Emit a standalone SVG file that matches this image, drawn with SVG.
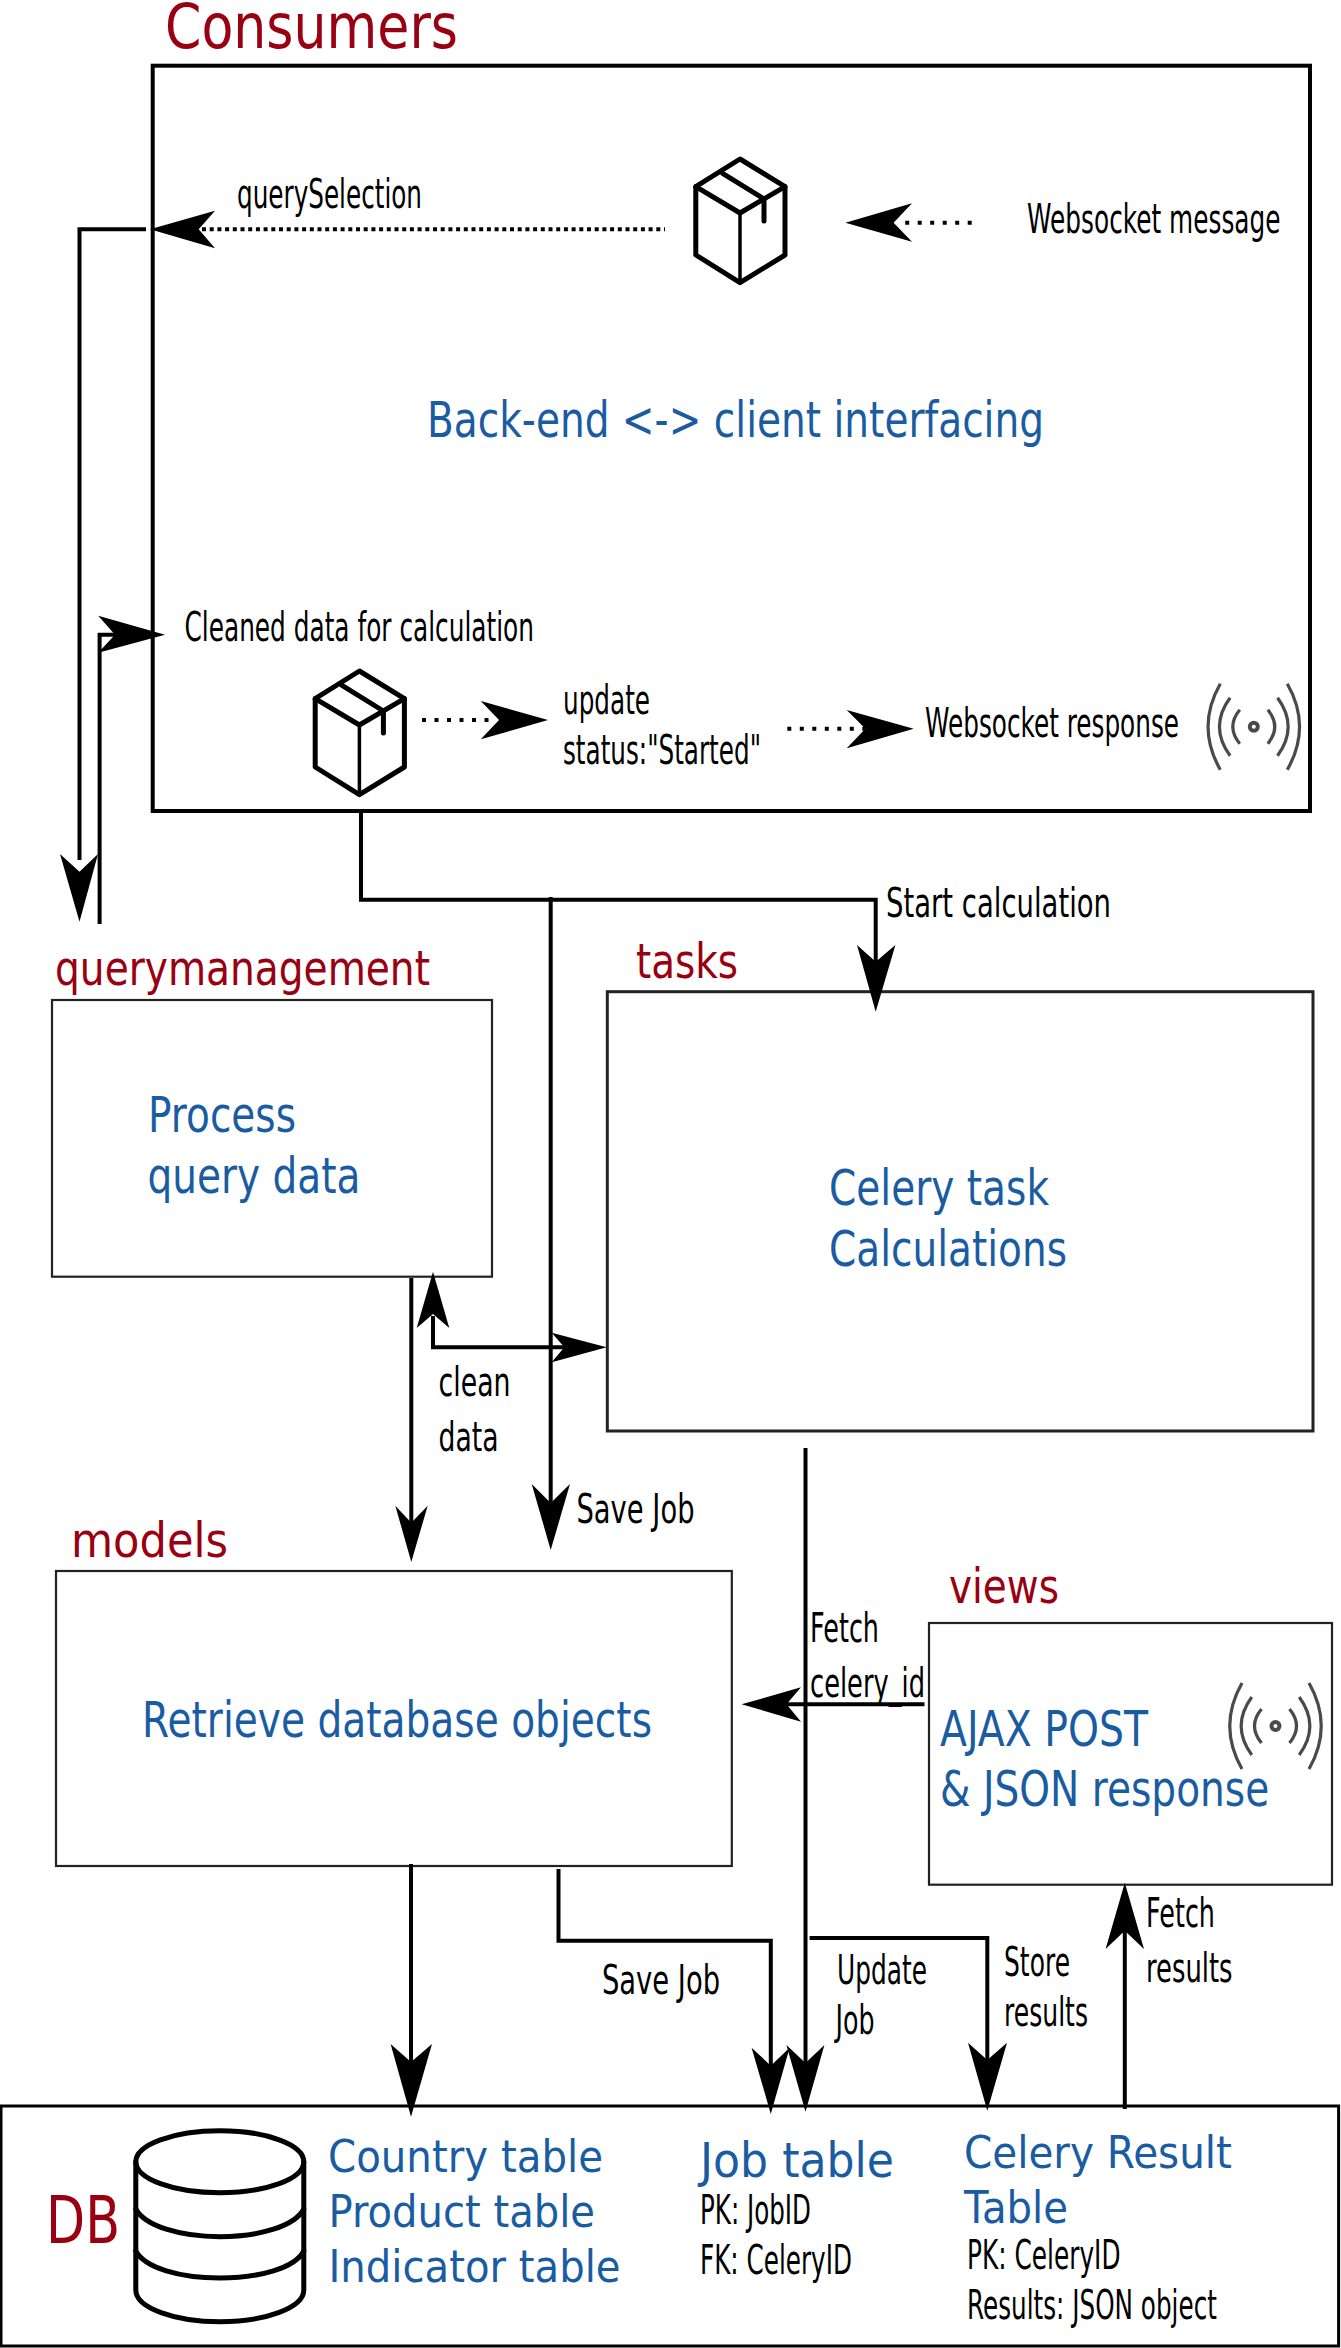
<svg xmlns="http://www.w3.org/2000/svg" xmlns:xlink="http://www.w3.org/1999/xlink" width="1341" height="2348" viewBox="0 0 1341 2348">
<style>
text{font-family:"DejaVu Sans","Liberation Sans",sans-serif;}
.t{fill:#990011;font-size:48px;}
.b{fill:#1a5ca2;font-size:49px;}
.k{fill:#000;font-size:40px;}
.box{fill:none;stroke:#222;stroke-width:2.2;}
.ln{fill:none;stroke:#000;stroke-width:4;}
.dot{fill:none;stroke:#000;stroke-width:4;stroke-dasharray:4 3.7;}
.ah{fill:#000;stroke:none;}
.ic{fill:none;stroke:#000;stroke-width:5;stroke-linejoin:round;stroke-linecap:round;}
.sg{fill:none;stroke:#4a4a4a;stroke-width:3.2;}
</style>
<defs>
<g id="pkg" class="ic">
<path d="M740 159L785 186.7V255L740 282.7L695.8 255V186.7Z"/>
<path d="M695.8 186.7L740 213L785 186.7"/>
<path d="M740 213V282.7" stroke-width="3.5"/>
<path d="M722.6 173.3L764 199V221"/>
</g>
<g id="sig" class="sg">
<path d="M-33.5 -43Q-58 0 -33.5 43M33.5 -43Q58 0 33.5 43"/>
<path d="M-23.7 -29Q-45 0 -23.7 29M23.7 -29Q45 0 23.7 29"/>
<path d="M-14 -17Q-28 0 -14 17M14 -17Q28 0 14 17"/>
<circle r="4" stroke-width="4"/>
</g>
</defs>
<rect width="1341" height="2348" fill="#fff"/>

<g id="consumers">
<text class="t" x="165" y="48" style="font-size:62px" textLength="293" lengthAdjust="spacingAndGlyphs">Consumers</text>
<rect x="152.7" y="65.7" width="1157.3" height="745.3" fill="none" stroke="#000" stroke-width="4"/>
<text class="k" x="237" y="208" textLength="185" lengthAdjust="spacingAndGlyphs">querySelection</text>
<text class="k" transform="translate(1027 233) scale(.62 1)">Websocket message</text>
<use xlink:href="#pkg" href="#pkg"/>
<text class="b" x="427" y="436.7" textLength="617" lengthAdjust="spacingAndGlyphs">Back-end &lt;-&gt; client interfacing</text>
<text class="k" x="184.5" y="640.7" textLength="349.5" lengthAdjust="spacingAndGlyphs">Cleaned data for calculation</text>
<use xlink:href="#pkg" href="#pkg" transform="translate(-380.6 512)"/>
<text class="k" x="563" y="714" textLength="87" lengthAdjust="spacingAndGlyphs">update</text>
<text class="k" x="563" y="764" textLength="198" lengthAdjust="spacingAndGlyphs">status:"Started"</text>
<text class="k" x="925" y="736.7" textLength="254" lengthAdjust="spacingAndGlyphs">Websocket response</text>
<use xlink:href="#sig" href="#sig" transform="translate(1253.8 726.7)"/>
</g>

<g id="querymanagement">
<text class="t" x="55" y="985" textLength="375" lengthAdjust="spacingAndGlyphs">querymanagement</text>
<rect class="box" x="52" y="1000" width="440" height="276.7"/>
<text class="b" x="148" y="1131.7" textLength="148" lengthAdjust="spacingAndGlyphs">Process</text>
<text class="b" x="147.5" y="1193" textLength="213" lengthAdjust="spacingAndGlyphs">query data</text>
</g>

<g id="tasks">
<text class="t" x="636" y="978" textLength="102" lengthAdjust="spacingAndGlyphs">tasks</text>
<rect class="box" x="607.3" y="991.7" width="705.7" height="439.3" style="stroke-width:3"/>
<text class="b" x="829" y="1205" textLength="220" lengthAdjust="spacingAndGlyphs">Celery task</text>
<text class="b" x="829" y="1266" textLength="238" lengthAdjust="spacingAndGlyphs">Calculations</text>
</g>

<g id="models">
<text class="t" x="71" y="1557" textLength="157" lengthAdjust="spacingAndGlyphs">models</text>
<rect class="box" x="56" y="1571" width="675.8" height="295"/>
<text class="b" x="142" y="1737" textLength="510" lengthAdjust="spacingAndGlyphs">Retrieve database objects</text>
</g>

<g id="views">
<text class="t" x="949" y="1602.7" textLength="110" lengthAdjust="spacingAndGlyphs">views</text>
<rect class="box" x="929" y="1623" width="403" height="261.7"/>
<text class="b" x="940" y="1745.7" style="font-size:50px" textLength="208" lengthAdjust="spacingAndGlyphs">AJAX POST</text>
<text class="b" transform="translate(940 1806) scale(.782 1)" style="font-size:50px">&amp; JSON response</text>
<use xlink:href="#sig" href="#sig" transform="translate(1275.5 1726)"/>
</g>

<g id="db">
<rect x="1" y="2106" width="1337.6" height="240" fill="none" stroke="#000" stroke-width="3"/>
<text class="t" x="46" y="2243" style="font-size:65px" textLength="74" lengthAdjust="spacingAndGlyphs">DB</text>
<g class="ic" stroke-linecap="butt">
<ellipse cx="219.8" cy="2161.7" rx="84" ry="31"/>
<path d="M135.8 2161.7V2290C135.8 2308 175 2321.7 219.8 2321.7S303.8 2308 303.8 2290V2161.7"/>
<path d="M135.8 2209C145 2226 180 2236.7 219.8 2236.7S295 2226 303.8 2209"/>
<path d="M135.8 2251C145 2268 180 2278 219.8 2278S295 2268 303.8 2251"/>
</g>
<text class="b" x="328" y="2171.7" style="font-size:44px" textLength="275" lengthAdjust="spacingAndGlyphs">Country table</text>
<text class="b" x="328.5" y="2226.7" style="font-size:44px" textLength="266.5" lengthAdjust="spacingAndGlyphs">Product table</text>
<text class="b" x="328.5" y="2281.7" style="font-size:44px" textLength="292" lengthAdjust="spacingAndGlyphs">Indicator table</text>
<text class="b" x="700" y="2176.7" style="font-size:48px" textLength="194" lengthAdjust="spacingAndGlyphs">Job table</text>
<text class="k" x="700" y="2224" textLength="111" lengthAdjust="spacingAndGlyphs">PK: JobID</text>
<text class="k" x="700" y="2274" textLength="152" lengthAdjust="spacingAndGlyphs">FK: CeleryID</text>
<text class="b" x="964" y="2168" style="font-size:44px" textLength="268" lengthAdjust="spacingAndGlyphs">Celery Result</text>
<text class="b" x="964" y="2223" style="font-size:44px" textLength="104" lengthAdjust="spacingAndGlyphs">Table</text>
<text class="k" x="967" y="2269" textLength="153.5" lengthAdjust="spacingAndGlyphs">PK: CeleryID</text>
<text class="k" transform="translate(967 2319) scale(.617 1)">Results: JSON object</text>
</g>

<g id="connectors">
<path class="dot" d="M202 229.3H665"/>
<polygon class="ah" points="150,229.3 215,210.7 198.7,229.3 215,248.3"/>
<path class="ln" d="M146 229.3H79.5V860"/>
<polygon class="ah" points="79.5,921.7 60,854 79.5,871.7 98,854"/>
<path class="ln" d="M99.6 924V634.7H120"/>
<polygon class="ah" points="165,634.7 98.2,615.7 115,634.7 98.2,652.7"/>
<path class="dot" d="M971.7 222.7H897" style="stroke-dasharray:4 8.5"/>
<polygon class="ah" points="845.4,222.7 912,203.3 893.6,222.7 912,241.7"/>
<path class="dot" d="M422 720H497" style="stroke-dasharray:4 8.5"/>
<polygon class="ah" points="548,720 480.8,701 499,720 480.8,739.3"/>
<path class="dot" d="M787.3 728.7H865" style="stroke-dasharray:4 8.5"/>
<polygon class="ah" points="913.7,728.7 846.7,710 865.4,728.7 846.7,748.3"/>
<path class="ln" d="M361 811V899.7H875.7V965"/>
<polygon class="ah" points="875.7,1011.7 857,945 875.7,961.7 895.4,945"/>
<text class="k" x="886" y="916.7" textLength="225" lengthAdjust="spacingAndGlyphs">Start calculation</text>
<path class="ln" d="M550.7 897V1510"/>
<polygon class="ah" points="550.7,1550 531.7,1484 550.7,1503 570,1484"/>
<text class="k" x="576.5" y="1523" textLength="118" lengthAdjust="spacingAndGlyphs">Save Job</text>
<path class="ln" d="M411.3 1278V1525"/>
<polygon class="ah" points="411.3,1562 395.3,1505.7 411.3,1522.7 427.7,1505.7"/>
<path class="ln" d="M433 1316V1347.3H566"/>
<polygon class="ah" points="433,1271.7 416.7,1328 433,1314 449.3,1328"/>
<polygon class="ah" points="606.7,1347.3 551.7,1332.7 564.3,1347.3 551.7,1362.3"/>
<text class="k" x="438.5" y="1395.7" textLength="72" lengthAdjust="spacingAndGlyphs">clean</text>
<text class="k" x="438.5" y="1450.7" textLength="60" lengthAdjust="spacingAndGlyphs">data</text>
<path class="ln" d="M805.5 1448V2070"/>
<polygon class="ah" points="805.5,2111.7 786.4,2045 805.5,2063 824.4,2045"/>
<path class="ln" d="M924.5 1704.3H786"/>
<polygon class="ah" points="741.6,1704.3 801,1687.3 786.5,1704.3 801,1721.7"/>
<text class="k" x="810" y="1641.7" textLength="69" lengthAdjust="spacingAndGlyphs">Fetch</text>
<text class="k" x="810" y="1696.7" textLength="115" lengthAdjust="spacingAndGlyphs">celery_id</text>
<path class="ln" d="M809.6 1938H987.3V2065"/>
<polygon class="ah" points="987.3,2110.7 968,2042.7 987.3,2060 1007,2042.7"/>
<text class="k" x="837" y="1984" textLength="90" lengthAdjust="spacingAndGlyphs">Update</text>
<text class="k" x="835.5" y="2034" textLength="39" lengthAdjust="spacingAndGlyphs">Job</text>
<text class="k" x="1004" y="1975.7" textLength="66" lengthAdjust="spacingAndGlyphs">Store</text>
<text class="k" x="1004" y="2025.7" textLength="84" lengthAdjust="spacingAndGlyphs">results</text>
<path class="ln" d="M558.5 1869V1940.7H770.8V2070"/>
<polygon class="ah" points="770.8,2114 751.6,2047.7 770.8,2065.7 789.6,2047.7"/>
<text class="k" x="602" y="1994" textLength="118" lengthAdjust="spacingAndGlyphs">Save Job</text>
<path class="ln" d="M411 1864V2070"/>
<polygon class="ah" points="411,2116.7 390.6,2044 411,2062 432,2044"/>
<path class="ln" d="M1124.8 2109V1925"/>
<polygon class="ah" points="1124.8,1882.7 1105.6,1949 1124.8,1930.7 1144,1949"/>
<text class="k" x="1146" y="1927" textLength="69" lengthAdjust="spacingAndGlyphs">Fetch</text>
<text class="k" x="1146" y="1981.7" textLength="86.5" lengthAdjust="spacingAndGlyphs">results</text>
</g>
</svg>
